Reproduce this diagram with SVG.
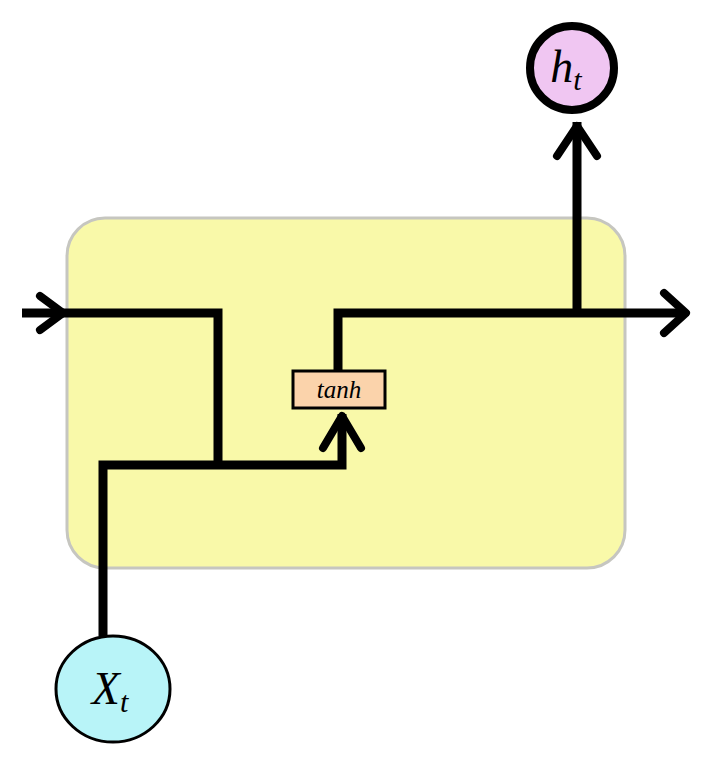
<svg xmlns="http://www.w3.org/2000/svg" width="714" height="763" viewBox="0 0 714 763">
<style>
.w{fill:none;stroke:#000;stroke-width:9;stroke-linejoin:miter}
.h{fill:none;stroke:#000;stroke-width:8;stroke-linecap:round;stroke-linejoin:round}
.t{font-family:"Liberation Serif",serif;font-style:italic}
</style>
<rect x="67" y="218" width="558" height="350" rx="38" fill="#f9f9a9" stroke="#c6c6c0" stroke-width="3"/>
<g id="connectors">
<polyline class="w" points="22,313 218,313 218,465"/>
<polyline class="w" points="103,636 103,465 342,465 342,414"/>
<polyline class="w" points="338,371 338,313 684,313"/>
<line class="w" x1="577" y1="313" x2="577" y2="122"/>
<polyline class="h" points="40,296 63,313 40,330"/>
<polyline class="h" points="664,293 686,313 664,333"/>
<polyline class="h" points="557,156 577,126 597,156"/>
<polyline class="h" points="323,448 342,416 361,448"/>
</g>
<g id="tanh">
<rect x="293" y="371" width="92" height="37" fill="#fbd3ab" stroke="#000" stroke-width="3"/>
<text class="t" x="339" y="398" font-size="25" text-anchor="middle">tanh</text>
</g>
<g id="ht">
<circle cx="572" cy="68" r="42" fill="#f0c6f2" stroke="#000" stroke-width="8"/>
<text class="t" x="566" y="82" font-size="46" text-anchor="middle">h<tspan font-size="30" dy="8">t</tspan></text>
</g>
<g id="xt">
<ellipse cx="113" cy="689" rx="57" ry="53" fill="#b8f4f8" stroke="#000" stroke-width="3"/>
<text class="t" x="110" y="704" font-size="46" text-anchor="middle">X<tspan font-size="30" dy="8">t</tspan></text>
</g>
</svg>
